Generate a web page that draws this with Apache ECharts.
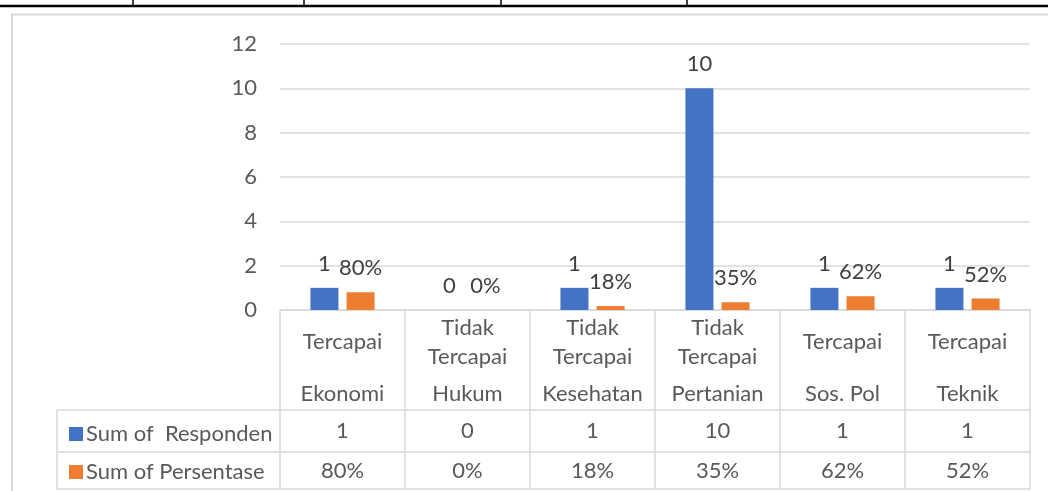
<!DOCTYPE html>
<html>
<head>
<meta charset="utf-8">
<script src="https://cdn.jsdelivr.net/npm/echarts@6/dist/echarts.min.js"></script>
<style>html,body{margin:0;padding:0;background:#fff;}#c{width:1048px;height:491px;}</style>
</head>
<body>
<div id="c"></div>
<script>
var subjects = ['Ekonomi', 'Hukum', 'Kesehatan', 'Pertanian', 'Sos. Pol', 'Teknik'];
var statuses = ['Tercapai', 'Tidak\nTercapai', 'Tidak\nTercapai', 'Tidak\nTercapai', 'Tercapai', 'Tercapai'];
var responden = [1, 0, 1, 10, 1, 1];
var persentase = [80, 0, 18, 35, 62, 52];
var yTicks = [0, 2, 4, 6, 8, 10, 12];
var seriesNames = ['Sum of  Responden', 'Sum of Persentase'];

var FONT = 'Lato';
var TXT = '#595959';
var LINE = '#d9d9d9';
var FS = 22;

var chart = echarts.init(document.getElementById('c'));
function baseX(extra) {
  var o = {
    type: 'category', data: subjects, gridIndex: 0, position: 'bottom',
    axisLine: { show: false }, axisTick: { show: false },
    axisLabel: { show: false }, splitLine: { show: false }
  };
  for (var k in extra) o[k] = extra[k];
  return o;
}
function vline(x, y1, y2, color, w) {
  return { type: 'line', shape: { x1: x, y1: y1, x2: x, y2: y2 }, style: { stroke: color, lineWidth: w } };
}
function hline(x1, x2, y, color, w) {
  return { type: 'line', shape: { x1: x1, y1: y, x2: x2, y2: y }, style: { stroke: color, lineWidth: w } };
}
chart.setOption({
  animation: false,
  textStyle: { fontFamily: FONT },
  grid: { left: 280, right: 18, top: 44, bottom: 181 },
  legend: [
    { data: [seriesNames[0]], left: 64, top: 418, icon: 'rect', itemWidth: 14, itemHeight: 14, itemGap: 6,
      textStyle: { fontFamily: FONT, fontSize: FS, color: TXT, padding: [0, 0, 0, -2] } },
    { data: [seriesNames[1]], left: 64, top: 456, icon: 'rect', itemWidth: 14, itemHeight: 14, itemGap: 6,
      textStyle: { fontFamily: FONT, fontSize: FS, color: TXT, padding: [0, 0, 0, -2] } }
  ],
  xAxis: [
    baseX({
      axisLine: { show: true, lineStyle: { color: LINE, width: 1.5 } },
      axisTick: { show: true, interval: 0, length: 179, lineStyle: { color: LINE, width: 1.5 } },
      axisLabel: { show: true, interval: 0, margin: 32, verticalAlign: 'middle', lineHeight: 29,
        fontFamily: FONT, fontSize: FS, color: TXT,
        formatter: function (v, i) { return statuses[i]; } }
    }),
    baseX({
      axisLabel: { show: true, interval: 0, margin: 84, verticalAlign: 'middle',
        fontFamily: FONT, fontSize: FS, color: TXT }
    }),
    baseX({
      offset: 100,
      axisLine: { show: true, lineStyle: { color: LINE, width: 1.5 } },
      axisLabel: { show: true, interval: 0, margin: 21, verticalAlign: 'middle',
        fontFamily: FONT, fontSize: FS, color: TXT,
        formatter: function (v, i) { return String(responden[i]); } }
    }),
    baseX({
      offset: 142,
      axisLine: { show: true, lineStyle: { color: LINE, width: 1.5 } },
      axisLabel: { show: true, interval: 0, margin: 19, verticalAlign: 'middle',
        fontFamily: FONT, fontSize: FS, color: TXT,
        formatter: function (v, i) { return persentase[i] + '%'; } }
    }),
    baseX({
      offset: 179,
      axisLine: { show: true, lineStyle: { color: LINE, width: 1.5 } }
    })
  ],
  yAxis: {
    type: 'value', min: yTicks[0], max: yTicks[yTicks.length - 1], interval: 2,
    axisLine: { show: false }, axisTick: { show: false },
    axisLabel: { margin: 23, fontFamily: FONT, fontSize: FS, color: TXT },
    splitLine: { lineStyle: { color: LINE, width: 1.5 } }
  },
  graphic: [
    hline(0, 1048, 6, '#000', 2.5),
    vline(133, 0, 6, '#000', 1.5),
    vline(304, 0, 6, '#000', 1.5),
    vline(501, 0, 6, '#000', 1.5),
    vline(687, 0, 6, '#000', 1.5),
    { type: 'rect', shape: { x: 12, y: 14.5, width: 1100, height: 600 }, style: { fill: null, stroke: '#d9d9d9', lineWidth: 2 } },
    vline(57, 410, 490, LINE, 1.5),
    hline(57, 280, 410, LINE, 1.5),
    hline(57, 280, 452, LINE, 1.5),
    hline(57, 280, 489, LINE, 1.5)
  ],
  series: [
    {
      name: seriesNames[0], type: 'bar', xAxisIndex: 0, data: responden,
      barWidth: 28, barGap: '29%',
      itemStyle: { color: '#4472C4' },
      label: { show: true, position: 'top', distance: 13, fontFamily: FONT, fontSize: FS, color: '#404040' }
    },
    {
      name: seriesNames[1], type: 'bar', xAxisIndex: 0, data: persentase.map(function (v) { return v / 100; }),
      barWidth: 28, barGap: '29%',
      itemStyle: { color: '#ED7D31' },
      label: { show: true, position: 'top', distance: 13, fontFamily: FONT, fontSize: FS, color: '#404040',
        formatter: function (p) { return persentase[p.dataIndex] + '%'; } }
    }
  ]
});
</script>
</body>
</html>
